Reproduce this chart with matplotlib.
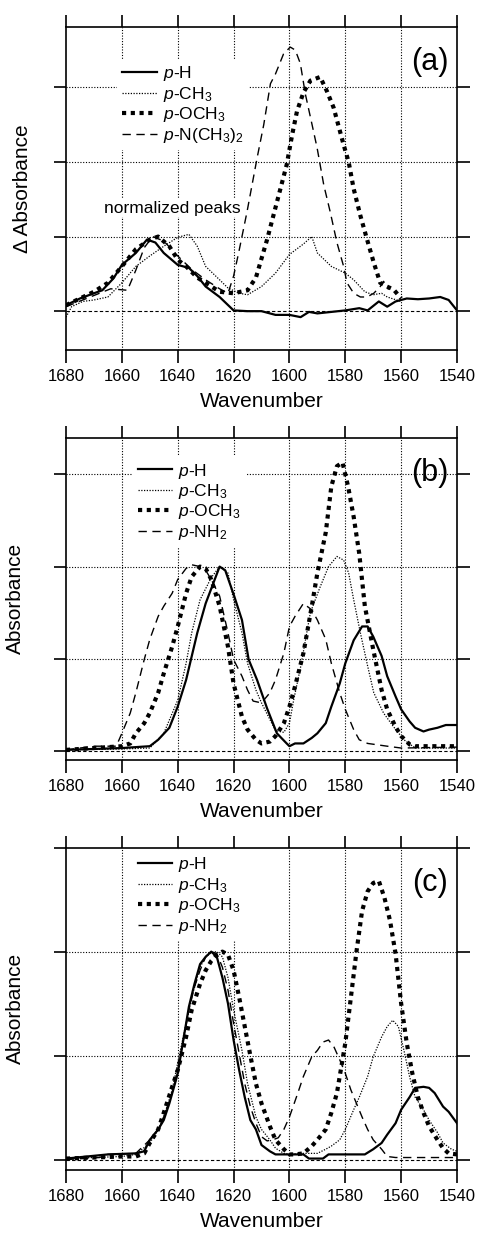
import numpy as np
import matplotlib
matplotlib.use('Agg')
import matplotlib.pyplot as plt

plt.rcParams['font.family'] = ['Liberation Sans', 'DejaVu Sans']
plt.rcParams['mathtext.fontset'] = 'custom'
plt.rcParams['mathtext.rm'] = 'Liberation Sans'
plt.rcParams['mathtext.it'] = 'Liberation Sans:italic'
plt.rcParams['font.size'] = 12

#%% Data (a) - Delta absorbance, normalized peaks
wn_a_H = [1680, 1675, 1670, 1667, 1663, 1660, 1655, 1651, 1648, 1645, 1640, 1636, 1633, 1630, 1625, 1620,
          1615, 1610, 1605, 1600, 1596, 1593, 1590, 1585, 1580, 1575, 1572, 1568, 1565, 1562, 1558, 1554,
          1550, 1546, 1543, 1540]
ab_a_H = [0.08, 0.17, 0.24, 0.28, 0.44, 0.62, 0.78, 0.96, 0.92, 0.78, 0.62, 0.58, 0.47, 0.33, 0.19, 0.01,
          0.0, 0.0, -0.05, -0.05, -0.08, -0.01, -0.03, -0.01, 0.01, 0.04, 0.01, 0.13, 0.06, 0.13, 0.17, 0.16,
          0.17, 0.19, 0.15, 0.01]
wn_a_CH3 = [1680, 1678, 1674, 1670, 1665, 1660, 1655, 1650, 1645, 1640, 1636, 1633, 1630, 1625, 1622, 1618,
            1615, 1610, 1605, 1600, 1595, 1592, 1590, 1585, 1580, 1577, 1573, 1570, 1567, 1565, 1560]
ab_a_CH3 = [-0.08, 0.06, 0.13, 0.15, 0.19, 0.38, 0.6, 0.74, 0.87, 0.99, 1.03, 0.87, 0.6, 0.42, 0.31, 0.24,
            0.22, 0.33, 0.51, 0.76, 0.9, 1.0, 0.78, 0.6, 0.51, 0.42, 0.26, 0.22, 0.24, 0.19, 0.13]
wn_a_OCH3 = [1680, 1675, 1670, 1665, 1660, 1655, 1650, 1647, 1643, 1640, 1637, 1633, 1630, 1625, 1620, 1615,
             1612, 1608, 1604.5, 1601, 1599, 1597.3, 1595, 1592.5, 1589, 1586.6, 1584.2, 1580.6, 1578.8, 1577,
             1574.6, 1572.2, 1569.8, 1567.5, 1565.1, 1562.7, 1560]
ab_a_OCH3 = [0.08, 0.17, 0.26, 0.38, 0.6, 0.83, 0.96, 1.0, 0.87, 0.69, 0.6, 0.45, 0.38, 0.26, 0.24, 0.28,
             0.45, 0.96, 1.46, 1.96, 2.37, 2.68, 2.93, 3.09, 3.14, 2.95, 2.73, 2.23, 2.0, 1.64,
             1.28, 0.96, 0.65, 0.38, 0.33, 0.29, 0.17]
wn_a_NMe2 = [1680, 1672, 1664, 1658, 1655, 1652, 1649, 1645, 1640, 1635, 1630, 1625, 1622, 1620, 1618.2,
             1615.2, 1611.6, 1609.2, 1606.8, 1605, 1602.1, 1599.7, 1597.9, 1596.1, 1594.3, 1591.9, 1590.1,
             1587.7, 1585.4, 1583, 1580.6, 1579.4, 1577, 1574.6, 1572.2, 1569.8, 1567.5, 1566.3, 1564.5]
ab_a_NMe2 = [0.06, 0.18, 0.3, 0.28, 0.55, 0.85, 1.0, 0.94, 0.74, 0.56, 0.42, 0.3, 0.24, 0.47, 0.78,
             1.33, 2.05, 2.5, 3.05, 3.18, 3.45, 3.54, 3.5, 3.32, 2.91, 2.5, 2.19,
             1.69, 1.33, 0.92, 0.6, 0.38, 0.24, 0.19, 0.19, 0.24, 0.33, 0.4, 0.29]

#%% Data (b)
wn_b_H = [1680, 1670, 1660, 1650, 1647, 1643, 1640, 1637, 1633, 1630, 1627, 1625, 1623, 1620, 1617, 1614.6,
          1611.6, 1608, 1604.5, 1601, 1600, 1598, 1595, 1592, 1590, 1587, 1585, 1582, 1580, 1577, 1574,
          1572, 1570, 1567, 1565, 1562, 1560, 1557, 1555, 1552, 1550, 1547, 1544, 1540]
ab_b_H = [0.01, 0.02, 0.03, 0.05, 0.12, 0.25, 0.48, 0.77, 1.28, 1.6, 1.84, 2.0, 1.96, 1.7, 1.42, 0.99,
          0.77, 0.46, 0.19, 0.08, 0.05, 0.08, 0.08, 0.14, 0.19, 0.3, 0.48, 0.73, 0.95, 1.2, 1.35,
          1.35, 1.24, 1.03, 0.81, 0.59, 0.45, 0.32, 0.25, 0.21, 0.23, 0.25, 0.28, 0.28]
wn_b_CH3 = [1680, 1660, 1650, 1645, 1640, 1637, 1635, 1632, 1628, 1625, 1622, 1620, 1617, 1615, 1612, 1610,
            1607, 1605, 1602, 1600, 1598.5, 1596, 1592.5, 1589, 1586, 1583, 1580.6, 1578.8, 1577, 1574.6,
            1572, 1569.8, 1566.3, 1562.7, 1559, 1555, 1540]
ab_b_CH3 = [0.01, 0.02, 0.03, 0.19, 0.55, 0.95, 1.28, 1.64, 1.88, 2.0, 1.93, 1.64, 1.28, 0.95, 0.66, 0.52,
            0.34, 0.22, 0.2, 0.3, 0.55, 0.91, 1.5, 1.78, 2.0, 2.11, 2.07, 1.93, 1.64, 1.28,
            0.92, 0.63, 0.41, 0.26, 0.12, 0.03, 0.03]
wn_b_OCH3 = [1680, 1670, 1660, 1657, 1655, 1652, 1650, 1647, 1645, 1642, 1640, 1637, 1635, 1632, 1630, 1628,
             1625, 1622, 1620, 1617, 1615, 1612, 1610, 1607, 1605, 1602, 1600, 1598, 1595, 1592, 1590, 1587,
             1585, 1583, 1581, 1579, 1577, 1575, 1573, 1570, 1567, 1565, 1562, 1560, 1557, 1555, 1540]
ab_b_OCH3 = [0.01, 0.03, 0.05, 0.08, 0.19, 0.3, 0.41, 0.63, 0.84, 1.13, 1.35, 1.71, 1.89, 2.0, 1.98, 1.86,
             1.57, 1.13, 0.73, 0.37, 0.23, 0.12, 0.08, 0.1, 0.16, 0.3, 0.48, 0.7, 1.06, 1.57, 1.93, 2.37,
             2.87, 3.09, 3.13, 2.87, 2.54, 2.14, 1.57, 1.1, 0.66, 0.45, 0.26, 0.16, 0.07, 0.05, 0.05]
wn_b_NH2 = [1680, 1670, 1662, 1660, 1657, 1655, 1652, 1650, 1647, 1645, 1642, 1640, 1637, 1635, 1632, 1630,
            1628, 1625, 1622, 1620, 1617, 1615, 1613, 1610, 1607, 1605, 1602, 1600, 1598, 1595, 1592, 1590,
            1587, 1585, 1582, 1580, 1577, 1575, 1572, 1565, 1560, 1540]
ab_b_NH2 = [0.01, 0.05, 0.05, 0.19, 0.41, 0.63, 0.99, 1.21, 1.46, 1.57, 1.71, 1.86, 1.98, 2.02, 2.0, 1.96,
            1.86, 1.68, 1.28, 0.99, 0.81, 0.66, 0.54, 0.52, 0.63, 0.77, 1.06, 1.35, 1.46, 1.6, 1.53, 1.42,
            1.21, 0.95, 0.63, 0.45, 0.23, 0.12, 0.08, 0.05, 0.03, 0.04]

#%% Data (c)
wn_c_H = [1680, 1665, 1655, 1652, 1650, 1647, 1645, 1643, 1641, 1640, 1638, 1636, 1634, 1632, 1630, 1628,
          1626, 1624, 1622, 1620, 1618, 1616, 1614, 1612, 1610, 1607, 1605, 1600, 1595, 1593, 1588, 1586,
          1580, 1575, 1573, 1570, 1567, 1565, 1562, 1560, 1557, 1555, 1552, 1550, 1548, 1545, 1543, 1540]
ab_c_H = [0.01, 0.05, 0.06, 0.08, 0.19, 0.29, 0.38, 0.54, 0.73, 0.83, 1.15, 1.47, 1.69, 1.88, 1.95, 2.0,
          1.95, 1.75, 1.5, 1.15, 0.86, 0.6, 0.38, 0.29, 0.14, 0.08, 0.05, 0.05, 0.05, 0.01, 0.01, 0.05,
          0.05, 0.05, 0.05, 0.1, 0.16, 0.24, 0.35, 0.48, 0.6, 0.69, 0.7, 0.69, 0.64, 0.51, 0.46, 0.35]
wn_c_CH3 = [1680, 1660, 1655, 1650, 1647, 1645, 1642, 1640, 1637, 1635, 1632, 1630, 1628, 1626, 1624, 1622,
            1620, 1617, 1615, 1612, 1610, 1607, 1605, 1602, 1600, 1595, 1590, 1587, 1585, 1582, 1580, 1577,
            1575, 1572, 1570, 1567, 1565, 1563, 1561, 1559, 1557, 1555, 1552, 1550, 1547, 1545, 1542, 1540]
ab_c_CH3 = [0.01, 0.03, 0.05, 0.16, 0.29, 0.41, 0.67, 0.93, 1.31, 1.56, 1.85, 1.95, 1.99, 2.0, 1.95, 1.75,
            1.44, 1.05, 0.73, 0.41, 0.29, 0.19, 0.11, 0.06, 0.05, 0.06, 0.06, 0.1, 0.13, 0.19, 0.29, 0.48,
            0.6, 0.8, 0.99, 1.18, 1.28, 1.34, 1.28, 1.05, 0.8, 0.6, 0.48, 0.38, 0.26, 0.16, 0.1, 0.08]
wn_c_OCH3 = [1680, 1660, 1655, 1652, 1650, 1647, 1645, 1642, 1640, 1637, 1635, 1632, 1630, 1628, 1626, 1624,
             1622, 1620, 1618, 1616, 1614, 1612, 1610, 1607, 1605, 1602, 1600, 1598, 1595, 1592, 1590, 1587,
             1585, 1583, 1580, 1578, 1576, 1574, 1572, 1570, 1568, 1566, 1564, 1562, 1560, 1558, 1556, 1554,
             1552, 1550, 1547, 1545, 1543, 1540]
ab_c_OCH3 = [0.01, 0.03, 0.03, 0.06, 0.16, 0.29, 0.45, 0.7, 0.86, 1.18, 1.44, 1.69, 1.82, 1.91, 1.97, 2.0,
             1.97, 1.82, 1.56, 1.28, 1.0, 0.73, 0.54, 0.32, 0.19, 0.1, 0.05, 0.05, 0.06, 0.13, 0.19, 0.29,
             0.45, 0.64, 1.12, 1.56, 2.0, 2.39, 2.58, 2.66, 2.68, 2.52, 2.3, 1.98, 1.5, 1.12, 0.83, 0.6,
             0.45, 0.32, 0.19, 0.11, 0.06, 0.05]
wn_c_NH2 = [1680, 1668, 1665, 1655, 1650, 1647, 1645, 1642, 1640, 1638, 1636, 1634, 1632, 1630, 1628, 1626,
            1624, 1622, 1620, 1618, 1616, 1614, 1612, 1610, 1608, 1606, 1604, 1602, 1600, 1597, 1595, 1592,
            1590, 1588, 1586, 1584, 1582, 1580, 1578, 1576, 1574, 1572, 1570, 1567, 1565, 1562, 1540]
ab_c_NH2 = [0.0, 0.02, 0.05, 0.06, 0.19, 0.29, 0.41, 0.64, 0.86, 1.15, 1.44, 1.66, 1.82, 1.95, 2.0, 1.98,
            1.85, 1.63, 1.31, 1.02, 0.73, 0.51, 0.35, 0.22, 0.18, 0.19, 0.21, 0.29, 0.41, 0.64, 0.8, 0.99,
            1.05, 1.13, 1.15, 1.08, 0.96, 0.83, 0.67, 0.54, 0.41, 0.29, 0.19, 0.1, 0.03, 0.02, 0.02]

xticks = [1680, 1660, 1640, 1620, 1600, 1580, 1560, 1540]
lab_H = r'$\it{p}$-H'
lab_CH3 = r'$\it{p}$-CH$_3$'
lab_OCH3 = r'$\it{p}$-OCH$_3$'
lab_NMe2 = r'$\it{p}$-N(CH$_3$)$_2$'
lab_NH2 = r'$\it{p}$-NH$_2$'

# line styles
st_H = dict(color='k', lw=1.6, ls='-')
st_CH3 = dict(color='k', lw=0.9, ls=(0, (1, 1.2)))
st_OCH3 = dict(color='k', lw=3.0, ls=(0, (1, 1.1)))
st_N = dict(color='k', lw=1.0, ls=(0, (6, 4)))

leg_kw = dict(loc='upper left', frameon=True, facecolor='white', edgecolor='none', framealpha=1,
              fancybox=False, borderpad=0.3, borderaxespad=0, handlelength=2.0, handletextpad=0.35,
              labelspacing=0.08, fontsize=12.5)

#%% Figure
fig = plt.figure(figsize=(4.78, 12.37), dpi=100)

def setup(ax, ylim, yticks, ylabel, tag):
    ax.set_xlim(1680, 1540)
    ax.set_ylim(*ylim)
    ax.set_xticks(xticks)
    ax.set_yticks(yticks)
    ax.set_yticklabels([])
    ax.tick_params(direction='out', length=9, width=1.2, top=True, right=True,
                   labeltop=False, labelright=False, pad=5, labelsize=12)
    for s in ax.spines.values():
        s.set_linewidth(1.2)
    for x in xticks[1:-1]:
        ax.axvline(x, color='k', lw=0.8, ls=(0, (1, 1.5)), zorder=1)
    for y in yticks:
        if y > 0 and y < ylim[1] - 0.05:
            ax.axhline(y, color='k', lw=0.8, ls=(0, (1, 1.5)), zorder=1)
    ax.axhline(0, color='k', lw=0.8, ls=(0, (3, 2)), zorder=1)
    ax.set_xlabel('Wavenumber', fontsize=15)
    ax.xaxis.set_label_coords(0.5, -0.13)
    ax.set_ylabel(ylabel, fontsize=15)
    ax.text(0.931, 0.89, tag, transform=ax.transAxes, ha='center', va='center', fontsize=22)

# (a)
ax = fig.add_axes([0.1381, 0.7171, 0.818, 0.2611])
setup(ax, (-0.52, 3.81), [0, 1, 2, 3], '\u0394 Absorbance', '(a)')
ax.yaxis.set_label_coords(-0.087, 0.5)
ax.plot(wn_a_H, ab_a_H, label=lab_H, **st_H)
ax.plot(wn_a_CH3, ab_a_CH3, label=lab_CH3, **st_CH3)
ax.plot(wn_a_OCH3, ab_a_OCH3, label=lab_OCH3, **st_OCH3)
ax.plot(wn_a_NMe2, ab_a_NMe2, label=lab_NMe2, **st_N)
ax.text(1642, 1.38, 'normalized peaks', ha='center', va='center', fontsize=12.5,
        bbox=dict(facecolor='white', edgecolor='none', pad=1))
ax.legend(bbox_to_anchor=(0.13, 0.9), **leg_kw)

# (b)
ax = fig.add_axes([0.1381, 0.3856, 0.818, 0.2606])
setup(ax, (-0.1, 3.40), [0, 1, 2, 3], 'Absorbance', '(b)')
ax.yaxis.set_label_coords(-0.105, 0.5)
ax.plot(wn_b_H, ab_b_H, label=lab_H, **st_H)
ax.plot(wn_b_CH3, ab_b_CH3, label=lab_CH3, **st_CH3)
ax.plot(wn_b_OCH3, ab_b_OCH3, label=lab_OCH3, **st_OCH3)
ax.plot(wn_b_NH2, ab_b_NH2, label=lab_NH2, **st_N)
ax.legend(bbox_to_anchor=(0.17, 0.942), **leg_kw)

# (c)
ax = fig.add_axes([0.1381, 0.05416, 0.818, 0.2606])
setup(ax, (-0.1, 3.0), [0, 1, 2, 3], 'Absorbance', '(c)')
ax.yaxis.set_label_coords(-0.105, 0.5)
ax.plot(wn_c_H, ab_c_H, label=lab_H, **st_H)
ax.plot(wn_c_CH3, ab_c_CH3, label=lab_CH3, **st_CH3)
ax.plot(wn_c_OCH3, ab_c_OCH3, label=lab_OCH3, **st_OCH3)
ax.plot(wn_c_NH2, ab_c_NH2, label=lab_NH2, **st_N)
ax.legend(bbox_to_anchor=(0.17, 0.992), **leg_kw)

fig.savefig('out.png', dpi=100)
